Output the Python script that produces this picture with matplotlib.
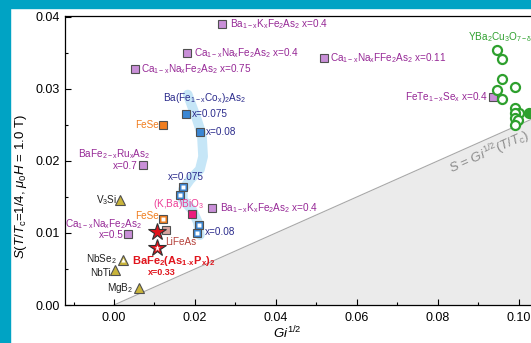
import numpy as np
import matplotlib
matplotlib.use('Agg')
import matplotlib.pyplot as plt
from matplotlib.patches import Rectangle

plt.rcParams['font.family'] = ['Liberation Sans', 'DejaVu Sans']
plt.rcParams['mathtext.fontset'] = 'custom'
plt.rcParams['mathtext.rm'] = 'Liberation Sans'
plt.rcParams['mathtext.it'] = 'Liberation Sans:italic'
plt.rcParams['mathtext.bf'] = 'Liberation Sans:bold'

# ---- data (Gi^1/2, S) ----
purple_x = [0.0267, 0.0180, 0.0052, 0.0518, 0.0936, 0.0072, 0.0035, 0.0242]
purple_y = [0.0390, 0.0350, 0.0328, 0.0343, 0.0289, 0.0194, 0.0098, 0.0135]

co_filled_x = [0.0177, 0.0213]
co_filled_y = [0.0265, 0.0240]
co_open_x = [0.0171, 0.0163, 0.0210, 0.0205]
co_open_y = [0.0164, 0.0153, 0.0111, 0.0100]

# guide band through the Co-doped points
band_x = [0.0182, 0.0205, 0.0217, 0.0220, 0.0212, 0.0188, 0.0170, 0.0170, 0.0193, 0.0207, 0.0212]
band_y = [0.0292, 0.0257, 0.0236, 0.0206, 0.0188, 0.0174, 0.0160, 0.0146, 0.0132, 0.0115, 0.0097]

fese_x = [0.0121, 0.0121]
fese_y = [0.0250, 0.0120]
lifeas = (0.0128, 0.0104)
kbabio = (0.0192, 0.0126)

tri_names = ['V3Si', 'NbSe2', 'NbTi', 'MgB2']
tri_x = [0.0015, 0.0022, 0.0002, 0.0062]
tri_y = [0.0146, 0.0063, 0.0049, 0.0024]

star_x = [0.0106, 0.0106]
star_y = [0.0101, 0.0079]

ybco_x = [0.0946, 0.0958, 0.0958, 0.0990, 0.0946, 0.0958, 0.0990, 0.1000, 0.0990, 0.0990, 0.0998, 0.0990]
ybco_y = [0.0354, 0.0342, 0.0314, 0.0303, 0.0299, 0.0286, 0.0274, 0.0267, 0.0267, 0.0260, 0.0257, 0.0250]
ybco_filled = (0.1025, 0.0267)

line_slope = 0.25  # S = Gi^1/2 * (T/Tc), T/Tc = 1/4

PURPLE_F = '#C98FD8'
PURPLE_T = '#962896'
BLUE_F = '#3B87D4'
NAVY = '#2B2B8C'
ORANGE = '#F07D1E'
GREEN = '#2EA02E'
RED = '#E0141C'
OLIVE = '#C9B43A'
EDGE = '#505050'

fig = plt.figure(figsize=(5.31, 3.43), dpi=100)
# teal frame strips
fig.patches.append(Rectangle((0, 0), 10 / 531, 1, transform=fig.transFigure, color='#00A3C4', zorder=0))
fig.patches.append(Rectangle((0, 1 - 8 / 343), 1, 8 / 343, transform=fig.transFigure, color='#00A3C4', zorder=0))

ax = fig.add_axes([65 / 531, 38 / 343, 475 / 531, 289 / 343])
ax.set_xlim(-0.0121, 0.1052)
ax.set_ylim(0, 0.0401)

# shaded region below S = Gi^1/2 T/Tc
gx = np.array([0, 0.12])
ax.fill_between(gx, 0, line_slope * gx, color='#EBEBEB', zorder=1, lw=0)
ax.plot(gx, line_slope * gx, color='#A8A8A8', lw=0.8, zorder=1)
ax.text(0.0926, 0.0212, r'$S$ = $Gi^{\rm 1/2}$($T$/$T_{\rm c}$)', color='#8C8C8C', fontsize=9.5,
        rotation=24, ha='center', va='center', rotation_mode='anchor', zorder=2)

ax.plot(band_x, band_y, color='#C6E6F7', lw=7, solid_capstyle='round', zorder=2)

ms = 5.5
ax.plot(purple_x, purple_y, 's', ms=ms, mfc=PURPLE_F, mec=EDGE, mew=0.8, zorder=4)
ax.plot(co_filled_x, co_filled_y, 's', ms=ms, mfc=BLUE_F, mec=EDGE, mew=0.8, zorder=4)
ax.plot(co_open_x, co_open_y, 's', ms=ms, mfc=BLUE_F, mec=EDGE, mew=0.8, zorder=4)
ax.plot(co_open_x, co_open_y, 's', ms=2.2, mfc='white', mec='none', zorder=5)
ax.plot(fese_x, fese_y, 's', ms=ms, mfc=ORANGE, mec=EDGE, mew=0.8, zorder=4)
ax.plot(fese_x[1:], fese_y[1:], 's', ms=2.2, mfc='white', mec='none', zorder=5)
ax.plot(*lifeas, 's', ms=ms + 0.5, mfc='#D7A39E', mec=EDGE, mew=0.8, zorder=4)
ax.plot(*kbabio, 's', ms=ms + 0.5, mfc='#EC1C7E', mec=EDGE, mew=0.8, zorder=4)

ax.plot(tri_x, tri_y, '^', ms=7, mfc=OLIVE, mec=EDGE, mew=0.8, zorder=4)
ax.plot(tri_x[1], tri_y[1], '^', ms=3, mfc='white', mec='none', zorder=5)

ax.plot(star_x, star_y, '*', ms=13, mfc=RED, mec='#303030', mew=0.8, zorder=4)
ax.plot(star_x[1], star_y[1], '*', ms=5, mfc='white', mec='none', zorder=5)

ax.plot(ybco_x, ybco_y, 'o', ms=6.5, mfc='white', mec=GREEN, mew=1.6, zorder=4)
ax.plot(*ybco_filled, 'o', ms=6.5, mfc=GREEN, mec=GREEN, mew=1.6, zorder=4)

fs = 7.2
def lab(x, y, s, c, ha='left', **kw):
    ax.text(x, y, s, color=c, fontsize=kw.pop('size', fs), ha=ha, va='center', zorder=6, **kw)

lab(0.0286, 0.0390, r'Ba$_{\rm 1-x}$K$_{\rm x}$Fe$_{\rm 2}$As$_{\rm 2}$ x=0.4', PURPLE_T)
lab(0.0198, 0.0350, r'Ca$_{\rm 1-x}$Na$_{\rm x}$Fe$_{\rm 2}$As$_{\rm 2}$ x=0.4', PURPLE_T)
lab(0.0067, 0.0328, r'Ca$_{\rm 1-x}$Na$_{\rm x}$Fe$_{\rm 2}$As$_{\rm 2}$ x=0.75', PURPLE_T)
lab(0.0533, 0.0343, r'Ca$_{\rm 1-x}$Na$_{\rm x}$FFe$_{\rm 2}$As$_{\rm 2}$ x=0.11', PURPLE_T)
lab(0.0923, 0.0289, r'FeTe$_{\rm 1-x}$Se$_{\rm x}$ x=0.4', PURPLE_T, ha='right')
lab(0.0874, 0.0372, r'YBa$_{\rm 2}$Cu$_{\rm 3}$O$_{\rm 7-\delta}$', GREEN)
lab(0.0121, 0.0287, r'Ba(Fe$_{\rm 1-x}$Co$_{\rm x}$)$_{\rm 2}$As$_{\rm 2}$', NAVY)
lab(0.0193, 0.0265, 'x=0.075', NAVY)
lab(0.0227, 0.0240, 'x=0.08', NAVY)
lab(0.0111, 0.0250, 'FeSe', ORANGE, ha='right')
lab(0.0089, 0.0209, r'BaFe$_{\rm 2-x}$Ru$_{\rm x}$As$_{\rm 2}$', PURPLE_T, ha='right')
lab(0.0059, 0.0193, 'x=0.7', PURPLE_T, ha='right')
lab(0.0133, 0.0178, 'x=0.075', NAVY)
lab(0.0007, 0.0146, r'V$_{\rm 3}$Si', '#202020', ha='right')
lab(0.0096, 0.0140, r'(K,Ba)BiO$_{\rm 3}$', '#EC3C96')
lab(0.0262, 0.0135, r'Ba$_{\rm 1-x}$K$_{\rm x}$Fe$_{\rm 2}$As$_{\rm 2}$ x=0.4', PURPLE_T)
lab(0.0112, 0.0124, 'FeSe', ORANGE, ha='right')
lab(-0.0025, 0.0112, r'Ca$_{\rm 1-x}$Na$_{\rm x}$Fe$_{\rm 2}$As$_{\rm 2}$', PURPLE_T, ha='center')
lab(0.0025, 0.0097, 'x=0.5', PURPLE_T, ha='right')
lab(0.0126, 0.0088, 'LiFeAs', '#B5403A')
lab(0.0225, 0.0101, 'x=0.08', NAVY)
lab(0.0007, 0.0064, r'NbSe$_{\rm 2}$', '#202020', ha='right')
lab(-0.0007, 0.0044, 'NbTi', '#202020', ha='right')
lab(0.0047, 0.0024, r'MgB$_{\rm 2}$', '#202020', ha='right')
lab(0.0044, 0.0061, r'$\mathbf{BaFe_2(As_{1\text{-}x}P_x)_2}$', RED, size=8, fontweight='bold')
lab(0.0119, 0.0045, 'x=0.33', RED, ha='center', size=6.5, fontweight='bold')

ax.set_xticks([0.0, 0.02, 0.04, 0.06, 0.08, 0.10])
ax.set_xticks(np.arange(-0.01, 0.105, 0.01), minor=True)
ax.set_yticks([0.0, 0.01, 0.02, 0.03, 0.04])
ax.set_yticks(np.arange(0.005, 0.04, 0.01), minor=True)
ax.xaxis.set_major_formatter(plt.FuncFormatter(lambda v, p: f'{v:.2f}'))
ax.yaxis.set_major_formatter(plt.FuncFormatter(lambda v, p: f'{v:.2f}'))
ax.tick_params(which='both', direction='in', labelsize=9, width=0.8)
ax.tick_params(which='major', length=4)
ax.tick_params(which='minor', length=2)
ax.tick_params(axis='x', pad=5)
for s in ax.spines.values():
    s.set_linewidth(0.9)

ax.set_xlabel(r'$Gi^{\rm 1/2}$', fontsize=9.5)
ax.xaxis.set_label_coords(0.467, -0.068)
ax.set_ylabel(r'$S$($T$/$T_{\rm c}$=1/4, $\mu_{\rm 0}H$ = 1.0 T)', fontsize=9.5)
ax.yaxis.set_label_coords(-0.075, 0.41)

fig.savefig('out.png', dpi=100)
